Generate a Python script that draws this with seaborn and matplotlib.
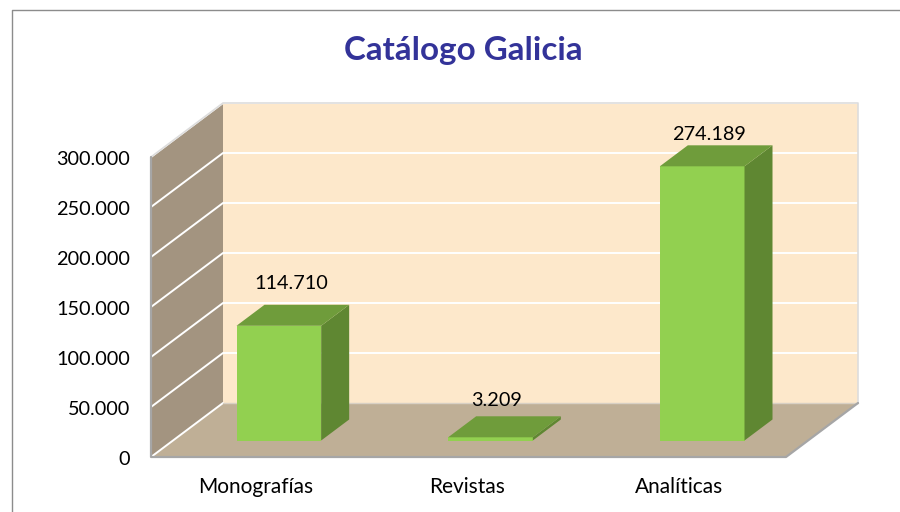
import matplotlib
matplotlib.use('Agg')
import matplotlib.pyplot as plt
from matplotlib.ticker import FuncFormatter
from matplotlib.transforms import ScaledTranslation
import seaborn as sns

categorias = ['Monografías', 'Revistas', 'Analíticas']
valores = [114710, 3209, 274189]
etiquetas = ['114.710', '3.209', '274.189']
y_ticks = [0, 50000, 100000, 150000, 200000, 250000, 300000]

# how far each data label sits from the top of its bar, in pixels
label_dx = [12, 6.5, 7]
label_dy = [42, 37, 32]

sns.set_theme(style='white')
plt.rcParams['font.family'] = ['Lato', 'DejaVu Sans']

fig = plt.figure(figsize=(9, 5.12), dpi=100)
ax = fig.add_axes([151 / 900, 55 / 512, 635 / 900, 300 / 512])
ax.patch.set_alpha(0)

# 3d look: depth of the floor, of the bars and offset of the bars, in data units
slot_px = 635 / 3
depth_x, depth_y = 72 / slot_px, 54000
bar_dx, bar_dy = 28 / slot_px, 21000
shift_x, shift_y = 22 / slot_px, 16500

sns.barplot(x=categorias, y=valores, width=0.4, color='#92D050', saturation=1,
            bottom=shift_y, linewidth=0, ax=ax, zorder=3)
bars = list(ax.patches)

x0, x1 = -0.5 - shift_x, 2.5 - shift_x
y_top = y_ticks[-1]
ax.set_xlim(x0, x1)
ax.set_ylim(0, y_top)

# walls and floor
ax.fill([x0, x0 + depth_x, x0 + depth_x, x0],
        [0, depth_y, y_top + depth_y, y_top],
        color='#A39480', lw=0, clip_on=False, zorder=0)
ax.fill([x0 + depth_x, x1 + depth_x, x1 + depth_x, x0 + depth_x],
        [depth_y, depth_y, y_top + depth_y, y_top + depth_y],
        color='#FDE8CB', lw=0, clip_on=False, zorder=0)
ax.fill([x0, x1, x1 + depth_x, x0 + depth_x],
        [0, 0, depth_y, depth_y],
        color='#BFAF96', lw=0, clip_on=False, zorder=1)

# gridlines
for t in y_ticks[1:]:
    ax.plot([x0, x0 + depth_x, x1 + depth_x], [t, t + depth_y, t + depth_y],
            color='white', lw=1.4, clip_on=False, zorder=0.5)
ax.plot([x0, x0 + depth_x, x1 + depth_x, x1 + depth_x],
        [y_top, y_top + depth_y, y_top + depth_y, depth_y],
        color='#DDDDDD', lw=1.2, clip_on=False, zorder=0.6)
ax.plot([x0, x0 + depth_x], [0, depth_y], color='white', lw=1.4, clip_on=False, zorder=1.5)
ax.plot([x0 + depth_x, x1 + depth_x], [depth_y, depth_y], color='#D8D0C4', lw=1,
        clip_on=False, zorder=1.5)
ax.plot([x0, x0, x1, x1 + depth_x], [y_top, 0, 0, depth_y], color='#A6A6A6', lw=1.6,
        clip_on=False, zorder=1.6)

# side and top faces taken from the bars seaborn drew
for i, bar in enumerate(bars):
    left = bar.get_x()
    right = left + bar.get_width()
    low = bar.get_y()
    top = low + bar.get_height()
    ax.fill([right, right + bar_dx, right + bar_dx, right],
            [low, low + bar_dy, top + bar_dy, top],
            color='#5F8732', lw=0, clip_on=False, zorder=3)
    ax.fill([left, right, right + bar_dx, left + bar_dx],
            [top, top, top + bar_dy, top + bar_dy],
            color='#6F9C3B', lw=0, clip_on=False, zorder=3)
    ax.annotate(etiquetas[i], ((left + right) / 2, top),
                xytext=(label_dx[i], label_dy[i]), textcoords='offset pixels',
                ha='center', va='center', fontsize=14.3, color='black',
                annotation_clip=False, zorder=5)

ax.set_yticks(y_ticks)
ax.yaxis.set_major_formatter(FuncFormatter(lambda v, p: f'{int(v):,}'.replace(',', '.')))
ax.set_xticks([i - shift_x - 1 / slot_px for i in range(len(categorias))])
ax.set_xticklabels(categorias)
ax.tick_params(axis='y', length=0, pad=15, labelsize=14.3, labelcolor='black')
ax.tick_params(axis='x', length=0, pad=14.5, labelsize=15, labelcolor='black')
ax.grid(False)
sns.despine(ax=ax, left=True, bottom=True)

# tick labels sit one pixel lower in the original
nudge = ScaledTranslation(0, -1 / 100, fig.dpi_scale_trans)
for lab in ax.get_yticklabels():
    lab.set_transform(lab.get_transform() + nudge)

fig.text(463.5 / 900, 1 - 50.5 / 512, 'Catálogo Galicia', ha='center', va='center',
         fontsize=23.9, fontweight='bold', color='#333399')

# chart border
fig.add_artist(plt.Line2D([12 / 900, 12 / 900, 1], [0, 1 - 10 / 512, 1 - 10 / 512],
                          color='#8C8C8C', lw=1))

fig.savefig('out.png', dpi=100)
